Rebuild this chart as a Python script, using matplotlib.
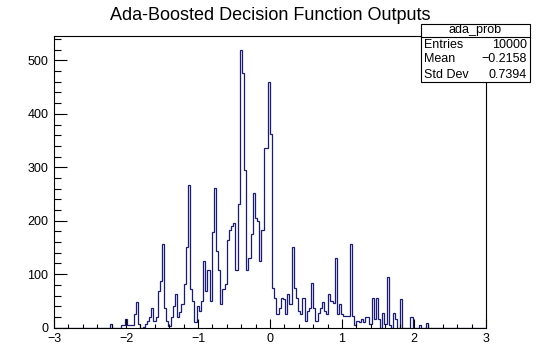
import numpy as np
import matplotlib.pyplot as plt
from matplotlib.ticker import MultipleLocator

plt.rcParams['font.family'] = ['Liberation Sans', 'DejaVu Sans']

# histogram of ada_prob, 200 bins on [-3, 3]
n_bins = 200
x_lo, x_hi = -3, 3
first_bin = 26
counts_read = [
    7, 0, 0, 0, 0, 4, 5, 17, 4, 4, 5, 26, 47, 7, 0, 2, 7, 13, 19, 36,      # 26-45
    13, 19, 69, 88, 157, 37, 13, 3, 19, 40, 63, 19, 30, 45, 82, 150,       # 46-61
    266, 73, 50, 10, 41, 32, 50, 125, 69, 107, 50, 178, 262, 144, 107,     # 62-76
    45, 73, 82, 163, 182, 190, 195, 107, 232, 519, 476, 294, 107, 131,     # 77-90
    176, 251, 206, 200, 125, 182, 337, 337, 459, 363, 75, 56, 26, 37,      # 91-104
    56, 54, 26, 63, 45, 150, 75, 56, 32, 26, 56, 13, 32, 36, 84, 37,       # 105-120
    13, 28, 36, 47, 32, 26, 63, 50, 46, 131, 26, 45, 26, 22, 22, 22,       # 121-136
    157, 22, 4, 13, 10, 17, 10, 19, 19, 7, 56, 17, 56, 17, 0, 28, 7,       # 137-153
    94, 4, 0, 28, 17, 0, 54, 0, 0, 0, 0, 19, 0, 0, 0, 4, 0, 0, 8,          # 154-172
]
counts = np.zeros(n_bins)
counts[first_bin:first_bin + len(counts_read)] = counts_read
edges = np.linspace(x_lo, x_hi, n_bins + 1)

hist_name = "ada_prob"
stat_labels = ["Entries", "Mean", "Std Dev"]
stat_values = ["10000", "\u22120.2158", "0.7394"]

fig = plt.figure(figsize=(5.4, 3.64), dpi=100)
ax = fig.add_axes([0.1, 0.1, 0.8, 0.8])

ax.stairs(counts, edges, color='#1a1a78', linewidth=0.9, baseline=0)

ax.set_xlim(x_lo, x_hi)
ax.set_ylim(0, 1.05 * counts.max())

ax.xaxis.set_major_locator(MultipleLocator(1))
ax.xaxis.set_minor_locator(MultipleLocator(0.2))
ax.yaxis.set_major_locator(MultipleLocator(100))
ax.yaxis.set_minor_locator(MultipleLocator(20))
ax.tick_params(axis='both', which='both', direction='in', top=False, right=False,
               labelsize=9, width=0.8, colors='black')
ax.tick_params(axis='x', which='major', length=6.3, pad=4)
ax.tick_params(axis='x', which='minor', length=3.1)
ax.tick_params(axis='y', which='major', length=9.4, pad=4)
ax.tick_params(axis='y', which='minor', length=4.7)
ax.xaxis.set_major_formatter(plt.FuncFormatter(lambda v, p: f"{v:g}".replace('-', '\u2212')))
for s in ax.spines.values():
    s.set_linewidth(0.8)

fig.text(0.5, 0.957, "Ada-Boosted Decision Function Outputs", ha='center', va='center',
         fontsize=13)

# stats box
bx0, bx1 = 421 / 540, 530 / 540
by_top, by_bot = 1 - 24 / 364, 1 - 82 / 364
by_sep = 1 - 37 / 364
box = plt.Rectangle((bx0, by_bot), bx1 - bx0, by_top - by_bot, transform=fig.transFigure,
                    facecolor='white', edgecolor='black', linewidth=0.8, zorder=5)
fig.add_artist(box)
fig.add_artist(plt.Line2D([bx0, bx1], [by_sep, by_sep], transform=fig.transFigure,
                          color='black', linewidth=0.8, zorder=6))
fig.text((bx0 + bx1) / 2, (by_top + by_sep) / 2, hist_name, ha='center', va='center',
         fontsize=9, zorder=7)
row_h = (by_sep - by_bot) / len(stat_labels)
for i, (lab, val) in enumerate(zip(stat_labels, stat_values)):
    yy = by_sep - row_h * (i + 0.5)
    fig.text(bx0 + 0.006, yy, lab, ha='left', va='center', fontsize=9, zorder=7)
    fig.text(bx1 - 0.006, yy, val, ha='right', va='center', fontsize=9, zorder=7)

fig.savefig("out.png", dpi=100)
